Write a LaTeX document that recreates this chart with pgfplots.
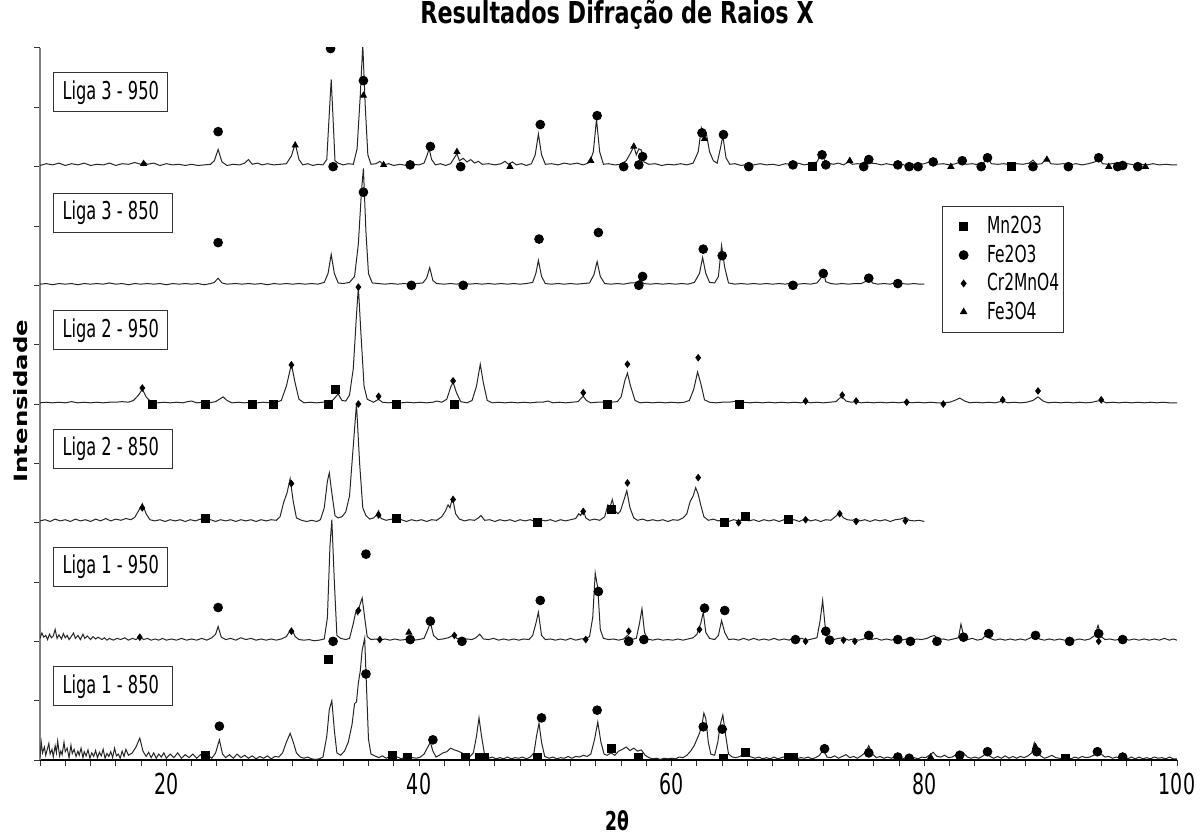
\documentclass[border=0pt]{standalone}
\usepackage{pgfplots}
\pgfplotsset{compat=1.18}
\usepackage{pgfplotstable}
\usepackage{graphicx}
\usepackage{fontspec}
\setmainfont{DejaVu Sans}[FakeStretch=0.66]
\newfontfamily\titlefont{DejaVu Sans}[FakeStretch=0.74]
\newfontfamily\plainfont{DejaVu Sans}

% offsets above each trace's own baseline
\pgfplotstableread[row sep=\\]{x y\\
10 0.02\\ 10.5 0.05\\ 11 0.03\\ 11.5 0.06\\ 12 0.02\\ 12.5 0.05\\ 13 0.03\\ 13.5 0.06\\ 14 0.02\\ 14.5 0.04\\
15 0.03\\ 15.5 0.06\\ 16 0.02\\ 16.5 0.05\\ 17 0.04\\ 17.5 0.07\\ 18 0.04\\ 18.2 0.09\\ 18.5 0.04\\ 19 0.06\\
19.5 0.02\\ 20 0.05\\ 20.5 0.03\\ 21 0.04\\ 21.5 0.02\\ 22 0.04\\ 22.5 0.02\\ 23 0.03\\ 23.5 0.04\\ 23.8 0.1\\
24.1 0.29\\ 24.4 0.08\\ 24.8 0.02\\ 25.3 0.04\\ 25.8 0.03\\ 26.2 0.06\\ 26.5 0.12\\ 26.8 0.04\\ 27.2 0.06\\ 27.6 0.03\\
28 0.05\\ 28.5 0.03\\ 29 0.04\\ 29.5 0.05\\ 29.9 0.18\\ 30.2 0.39\\ 30.5 0.12\\ 30.8 0.03\\ 31.2 0.05\\ 31.6 0.02\\
32 0.04\\ 32.4 0.03\\ 32.7 0.12\\ 32.9 0.9\\ 33.05 1.47\\ 33.2 0.8\\ 33.35 0.1\\ 33.6 0.06\\ 34 0.03\\ 34.4 0.05\\
34.8 0.04\\ 35.1 0.3\\ 35.35 1.2\\ 35.55 2.05\\ 35.75 1.0\\ 35.95 0.2\\ 36.2 0.04\\ 36.6 0.05\\ 36.9 0.09\\ 37.2 0.03\\
37.6 0.05\\ 38 0.02\\ 38.5 0.04\\ 39 0.02\\ 39.5 0.04\\ 40 0.03\\ 40.4 0.06\\ 40.65 0.2\\ 40.8 0.3\\ 41 0.12\\
41.3 0.03\\ 41.7 0.05\\ 42.1 0.02\\ 42.5 0.05\\ 42.8 0.15\\ 43.0 0.22\\ 43.2 0.1\\ 43.5 0.14\\ 43.8 0.08\\ 44.1 0.12\\
44.4 0.06\\ 44.7 0.09\\ 45 0.04\\ 45.5 0.05\\ 46 0.03\\ 46.5 0.05\\ 46.8 0.09\\ 47.1 0.04\\ 47.4 0.08\\ 47.7 0.03\\
48.1 0.05\\ 48.5 0.02\\ 48.9 0.05\\ 49.2 0.2\\ 49.45 0.55\\ 49.7 0.2\\ 50 0.04\\ 50.5 0.05\\ 51 0.03\\ 51.5 0.06\\
52 0.04\\ 52.5 0.06\\ 53 0.03\\ 53.5 0.07\\ 53.8 0.25\\ 54.05 0.8\\ 54.3 0.25\\ 54.6 0.04\\ 55 0.05\\ 55.5 0.03\\
56 0.04\\ 56.4 0.1\\ 56.8 0.25\\ 57.0 0.35\\ 57.2 0.2\\ 57.4 0.3\\ 57.6 0.28\\ 57.8 0.08\\ 58.2 0.04\\ 58.7 0.05\\
59.2 0.02\\ 59.7 0.04\\ 60.2 0.03\\ 60.7 0.05\\ 61.2 0.03\\ 61.7 0.06\\ 62.1 0.25\\ 62.35 0.65\\ 62.55 0.5\\ 62.75 0.55\\
63.0 0.25\\ 63.3 0.1\\ 63.6 0.06\\ 63.85 0.3\\ 64.05 0.52\\ 64.3 0.15\\ 64.6 0.04\\ 65 0.05\\ 65.5 0.02\\ 66 0.04\\
66.5 0.03\\ 67 0.05\\ 67.5 0.03\\ 68 0.04\\ 68.5 0.02\\ 69 0.05\\ 69.5 0.04\\ 70 0.06\\ 70.5 0.03\\ 71 0.05\\
71.5 0.08\\ 71.75 0.18\\ 71.9 0.26\\ 72.1 0.1\\ 72.4 0.06\\ 72.8 0.04\\ 73.2 0.06\\ 73.6 0.03\\ 74 0.08\\ 74.3 0.04\\
74.7 0.05\\ 75.1 0.04\\ 75.5 0.15\\ 75.8 0.06\\ 76.2 0.05\\ 76.6 0.03\\ 77 0.05\\ 77.5 0.03\\ 78 0.06\\ 78.5 0.02\\
79 0.04\\ 79.5 0.03\\ 80 0.05\\ 80.4 0.08\\ 80.7 0.11\\ 81 0.04\\ 81.5 0.05\\ 82 0.03\\ 82.5 0.05\\ 83 0.1\\
83.3 0.04\\ 83.8 0.05\\ 84.3 0.03\\ 84.7 0.07\\ 85 0.15\\ 85.3 0.05\\ 85.8 0.04\\ 86.3 0.05\\ 86.8 0.03\\ 87.3 0.05\\
87.8 0.04\\ 88.3 0.06\\ 88.6 0.11\\ 88.9 0.04\\ 89.3 0.05\\ 89.7 0.15\\ 90 0.05\\ 90.5 0.04\\ 91 0.05\\ 91.5 0.03\\
92 0.05\\ 92.5 0.03\\ 93 0.05\\ 93.5 0.08\\ 93.8 0.15\\ 94.1 0.05\\ 94.6 0.04\\ 95.1 0.06\\ 95.6 0.03\\ 96.1 0.05\\
96.6 0.03\\ 97.1 0.04\\ 97.6 0.03\\ 98.1 0.05\\ 98.6 0.03\\ 99.1 0.04\\ 99.6 0.03\\ 100 0.03\\
}\ligaTresA

\pgfplotstableread[row sep=\\]{x y\\
10 0.02\\ 10.5 0.03\\ 11 0.01\\ 11.5 0.03\\ 12 0.02\\ 12.5 0.03\\ 13 0.01\\ 13.5 0.03\\ 14 0.02\\ 14.5 0.03\\
15 0.02\\ 15.5 0.04\\ 16 0.02\\ 16.5 0.03\\ 17 0.01\\ 17.5 0.03\\ 18 0.02\\ 18.5 0.03\\ 19 0.02\\ 19.5 0.03\\
20 0.01\\ 20.5 0.03\\ 21 0.02\\ 21.5 0.03\\ 22 0.02\\ 22.5 0.03\\ 23 0.01\\ 23.5 0.03\\ 23.8 0.05\\ 24.1 0.12\\
24.4 0.04\\ 24.8 0.02\\ 25.5 0.03\\ 26 0.02\\ 26.5 0.03\\ 27 0.02\\ 27.5 0.03\\ 28 0.01\\ 28.5 0.03\\ 29 0.02\\
29.5 0.03\\ 30 0.02\\ 30.5 0.03\\ 31 0.02\\ 31.5 0.03\\ 32 0.02\\ 32.5 0.05\\ 32.8 0.2\\ 33.05 0.52\\ 33.3 0.2\\
33.6 0.04\\ 34 0.03\\ 34.5 0.05\\ 34.9 0.15\\ 35.2 0.7\\ 35.45 1.6\\ 35.6 1.97\\ 35.8 0.9\\ 36.0 0.2\\ 36.3 0.04\\
36.8 0.03\\ 37.3 0.02\\ 37.8 0.03\\ 38.3 0.02\\ 38.8 0.03\\ 39.3 0.02\\ 39.8 0.03\\ 40.3 0.04\\ 40.6 0.12\\ 40.85 0.3\\
41.1 0.08\\ 41.4 0.03\\ 42 0.02\\ 42.5 0.03\\ 43 0.02\\ 43.5 0.04\\ 44 0.02\\ 44.5 0.03\\ 45 0.02\\ 45.5 0.03\\
46 0.02\\ 46.5 0.03\\ 47 0.02\\ 47.5 0.03\\ 48 0.02\\ 48.5 0.03\\ 49 0.05\\ 49.25 0.2\\ 49.45 0.42\\ 49.7 0.15\\
50 0.03\\ 50.5 0.02\\ 51 0.03\\ 51.5 0.02\\ 52 0.03\\ 52.5 0.02\\ 53 0.03\\ 53.5 0.04\\ 53.85 0.18\\ 54.1 0.4\\
54.35 0.15\\ 54.7 0.03\\ 55.2 0.02\\ 55.7 0.03\\ 56.2 0.02\\ 56.7 0.04\\ 57.2 0.04\\ 57.5 0.09\\ 57.8 0.03\\ 58.3 0.02\\
58.8 0.03\\ 59.3 0.02\\ 59.8 0.03\\ 60.3 0.02\\ 60.8 0.03\\ 61.3 0.02\\ 61.8 0.05\\ 62.2 0.2\\ 62.45 0.47\\ 62.7 0.2\\
63.0 0.05\\ 63.4 0.04\\ 63.7 0.15\\ 63.95 0.67\\ 64.2 0.3\\ 64.5 0.04\\ 65 0.02\\ 65.5 0.03\\ 66 0.02\\ 66.5 0.03\\
67 0.02\\ 67.5 0.03\\ 68 0.02\\ 68.5 0.03\\ 69 0.02\\ 69.5 0.04\\ 70 0.02\\ 70.5 0.03\\ 71 0.02\\ 71.5 0.04\\
71.8 0.12\\ 72.0 0.24\\ 72.2 0.06\\ 72.6 0.03\\ 73 0.02\\ 73.5 0.03\\ 74 0.02\\ 74.5 0.03\\ 75 0.03\\ 75.3 0.06\\
75.6 0.13\\ 75.9 0.04\\ 76.3 0.02\\ 76.8 0.03\\ 77.3 0.02\\ 77.6 0.04\\ 77.9 0.06\\ 78.2 0.03\\ 78.7 0.02\\ 79.2 0.03\\
79.6 0.02\\ 80 0.02\\
}\ligaTresB

\pgfplotstableread[row sep=\\]{x y\\
10 0.02\\ 10.5 0.03\\ 11 0.02\\ 11.5 0.03\\ 12 0.02\\ 12.5 0.04\\ 13 0.02\\ 13.5 0.03\\ 14 0.02\\ 14.5 0.03\\
15 0.02\\ 15.5 0.03\\ 16 0.03\\ 16.5 0.04\\ 17 0.03\\ 17.4 0.06\\ 17.8 0.15\\ 18.1 0.25\\ 18.4 0.12\\ 18.8 0.03\\
19.3 0.02\\ 19.8 0.03\\ 20.3 0.02\\ 20.8 0.03\\ 21.3 0.02\\ 21.7 0.04\\ 22.0 0.05\\ 22.4 0.02\\ 22.9 0.03\\ 23.4 0.02\\
23.9 0.04\\ 24.2 0.08\\ 24.5 0.12\\ 24.8 0.06\\ 25.2 0.02\\ 25.7 0.03\\ 26.2 0.02\\ 26.7 0.03\\ 27.2 0.02\\ 27.7 0.03\\
28.2 0.02\\ 28.7 0.03\\ 29.1 0.06\\ 29.5 0.3\\ 29.9 0.67\\ 30.2 0.35\\ 30.5 0.08\\ 30.9 0.02\\ 31.4 0.03\\ 31.9 0.02\\
32.4 0.03\\ 32.9 0.03\\ 33.2 0.07\\ 33.6 0.17\\ 33.9 0.06\\ 34.2 0.05\\ 34.5 0.15\\ 34.8 0.6\\ 35.05 1.5\\ 35.2 1.97\\
35.4 1.2\\ 35.65 0.3\\ 35.9 0.08\\ 36.1 0.06\\ 36.4 0.03\\ 36.8 0.08\\ 37.1 0.03\\ 37.6 0.02\\ 38.1 0.03\\ 38.6 0.02\\
39.1 0.03\\ 39.6 0.02\\ 40.1 0.03\\ 40.6 0.02\\ 41.1 0.03\\ 41.4 0.05\\ 41.8 0.03\\ 42.2 0.08\\ 42.5 0.28\\ 42.7 0.37\\
42.95 0.2\\ 43.3 0.04\\ 43.8 0.02\\ 44.2 0.06\\ 44.55 0.3\\ 44.85 0.67\\ 45.1 0.35\\ 45.4 0.06\\ 45.8 0.02\\ 46.3 0.03\\
46.8 0.02\\ 47.3 0.03\\ 47.8 0.02\\ 48.3 0.03\\ 48.8 0.02\\ 49.3 0.03\\ 49.8 0.03\\ 50.2 0.05\\ 50.6 0.02\\ 51.1 0.03\\
51.6 0.02\\ 52.1 0.03\\ 52.6 0.04\\ 52.8 0.09\\ 53.0 0.13\\ 53.25 0.06\\ 53.6 0.02\\ 54.1 0.03\\ 54.5 0.03\\ 54.8 0.05\\
55.2 0.03\\ 55.7 0.04\\ 56.0 0.12\\ 56.3 0.4\\ 56.5 0.52\\ 56.75 0.3\\ 57.1 0.06\\ 57.5 0.02\\ 58 0.03\\ 58.5 0.02\\
59 0.03\\ 59.5 0.02\\ 60 0.03\\ 60.5 0.02\\ 61 0.03\\ 61.4 0.06\\ 61.75 0.25\\ 62.05 0.54\\ 62.3 0.35\\ 62.6 0.07\\
63 0.03\\ 63.5 0.02\\ 64 0.03\\ 64.5 0.03\\ 64.9 0.04\\ 65.3 0.06\\ 65.7 0.03\\ 66.2 0.02\\ 66.7 0.03\\ 67.2 0.02\\
67.7 0.03\\ 68.2 0.02\\ 68.7 0.03\\ 69.2 0.02\\ 69.7 0.03\\ 70.2 0.02\\ 70.6 0.04\\ 71 0.02\\ 71.5 0.03\\ 72 0.02\\
72.5 0.03\\ 73 0.04\\ 73.3 0.1\\ 73.5 0.12\\ 73.8 0.05\\ 74.2 0.03\\ 74.6 0.04\\ 75 0.02\\ 75.5 0.03\\ 76 0.02\\
76.5 0.03\\ 77 0.02\\ 77.5 0.03\\ 78 0.02\\ 78.6 0.04\\ 79 0.02\\ 79.5 0.03\\ 80 0.02\\ 80.5 0.03\\ 81 0.02\\
81.5 0.02\\ 82 0.03\\ 82.4 0.06\\ 82.8 0.1\\ 83.2 0.05\\ 83.6 0.02\\ 84.1 0.03\\ 84.6 0.02\\ 85.1 0.03\\ 85.6 0.02\\
86.2 0.05\\ 86.6 0.02\\ 87.1 0.03\\ 87.6 0.02\\ 88.1 0.03\\ 88.6 0.06\\ 89.0 0.12\\ 89.4 0.05\\ 89.8 0.02\\ 90.3 0.03\\
90.8 0.02\\ 91.3 0.03\\ 91.8 0.02\\ 92.3 0.03\\ 92.8 0.02\\ 93.3 0.03\\ 93.7 0.05\\ 94.0 0.06\\ 94.4 0.02\\ 94.9 0.03\\
95.4 0.02\\ 95.9 0.03\\ 96.4 0.02\\ 96.9 0.03\\ 97.4 0.02\\ 97.9 0.03\\ 98.4 0.02\\ 98.9 0.03\\ 99.4 0.02\\ 100 0.02\\
}\ligaDoisA

\pgfplotstableread[row sep=\\]{x y\\
10 0.03\\ 10.4 0.05\\ 10.8 0.02\\ 11.2 0.06\\ 11.6 0.03\\ 12 0.05\\ 12.4 0.02\\ 12.8 0.06\\ 13.2 0.03\\ 13.6 0.05\\
14 0.02\\ 14.4 0.06\\ 14.8 0.03\\ 15.2 0.07\\ 15.6 0.03\\ 16 0.06\\ 16.4 0.04\\ 16.8 0.07\\ 17.2 0.05\\ 17.5 0.09\\
17.8 0.2\\ 18.1 0.32\\ 18.4 0.15\\ 18.7 0.05\\ 19.1 0.03\\ 19.5 0.05\\ 19.9 0.02\\ 20.3 0.05\\ 20.7 0.03\\ 21.1 0.05\\
21.5 0.02\\ 21.9 0.05\\ 22.3 0.03\\ 22.7 0.06\\ 23.1 0.03\\ 23.5 0.05\\ 23.9 0.02\\ 24.3 0.05\\ 24.7 0.03\\ 25.1 0.05\\
25.5 0.02\\ 25.9 0.05\\ 26.3 0.03\\ 26.7 0.05\\ 27.1 0.02\\ 27.5 0.05\\ 27.9 0.03\\ 28.3 0.05\\ 28.7 0.04\\ 29.0 0.1\\
29.3 0.35\\ 29.55 0.5\\ 29.8 0.74\\ 30.05 0.35\\ 30.3 0.08\\ 30.7 0.04\\ 31.1 0.02\\ 31.5 0.04\\ 31.9 0.02\\ 32.2 0.05\\
32.5 0.25\\ 32.75 0.7\\ 32.9 0.84\\ 33.1 0.5\\ 33.35 0.12\\ 33.6 0.08\\ 33.9 0.1\\ 34.2 0.18\\ 34.5 0.45\\ 34.8 1.3\\
35.05 2.0\\ 35.3 1.0\\ 35.55 0.25\\ 35.8 0.12\\ 36.1 0.06\\ 36.4 0.08\\ 36.6 0.12\\ 36.8 0.2\\ 37.0 0.07\\ 37.4 0.04\\
37.8 0.06\\ 38.2 0.03\\ 38.6 0.05\\ 39 0.02\\ 39.4 0.05\\ 39.8 0.03\\ 40.2 0.05\\ 40.6 0.02\\ 41 0.05\\ 41.4 0.04\\
41.8 0.1\\ 42.1 0.2\\ 42.3 0.3\\ 42.45 0.25\\ 42.65 0.42\\ 42.9 0.15\\ 43.2 0.06\\ 43.6 0.03\\ 44 0.05\\ 44.4 0.04\\
44.7 0.08\\ 44.9 0.12\\ 45.2 0.04\\ 45.6 0.05\\ 46 0.02\\ 46.4 0.05\\ 46.8 0.03\\ 47.2 0.05\\ 47.6 0.02\\ 48 0.05\\
48.4 0.03\\ 48.8 0.05\\ 49.2 0.02\\ 49.6 0.05\\ 50 0.03\\ 50.4 0.05\\ 50.8 0.02\\ 51.2 0.05\\ 51.6 0.03\\ 52 0.05\\
52.4 0.07\\ 52.65 0.15\\ 52.8 0.12\\ 53.0 0.22\\ 53.2 0.08\\ 53.5 0.04\\ 53.9 0.06\\ 54.3 0.04\\ 54.7 0.1\\ 54.95 0.3\\
55.1 0.25\\ 55.3 0.39\\ 55.5 0.2\\ 55.75 0.15\\ 55.95 0.2\\ 56.25 0.4\\ 56.45 0.54\\ 56.7 0.25\\ 57.0 0.08\\ 57.3 0.04\\
57.7 0.06\\ 58.1 0.03\\ 58.5 0.05\\ 58.9 0.03\\ 59.3 0.05\\ 59.7 0.02\\ 60.1 0.05\\ 60.5 0.04\\ 60.9 0.08\\ 61.2 0.15\\
61.45 0.35\\ 61.7 0.45\\ 61.9 0.59\\ 62.1 0.48\\ 62.3 0.3\\ 62.55 0.1\\ 62.9 0.04\\ 63.3 0.06\\ 63.7 0.03\\ 64.1 0.05\\
64.5 0.02\\ 64.9 0.05\\ 65.3 0.03\\ 65.7 0.06\\ 66.1 0.03\\ 66.5 0.05\\ 66.9 0.02\\ 67.3 0.05\\ 67.7 0.03\\ 68.1 0.05\\
68.5 0.02\\ 68.9 0.05\\ 69.3 0.03\\ 69.7 0.05\\ 70.1 0.02\\ 70.6 0.07\\ 71 0.03\\ 71.4 0.05\\ 71.8 0.02\\ 72.2 0.05\\
72.6 0.04\\ 72.95 0.1\\ 73.3 0.17\\ 73.6 0.08\\ 73.9 0.05\\ 74.3 0.04\\ 74.6 0.07\\ 74.9 0.03\\ 75.3 0.05\\ 75.7 0.02\\
76.1 0.05\\ 76.5 0.03\\ 76.9 0.05\\ 77.3 0.02\\ 77.7 0.05\\ 78.1 0.06\\ 78.5 0.09\\ 78.8 0.04\\ 79.2 0.03\\ 79.6 0.04\\
80 0.02\\
}\ligaDoisB

\pgfplotstableread[row sep=\\]{x y\\
10 0.05\\ 10.15 0.14\\ 10.3 0.07\\ 10.45 0.1\\ 10.6 0.03\\ 10.75 0.12\\ 10.9 0.06\\ 11.05 0.09\\ 11.2 0.2\\ 11.35 0.05\\
11.5 0.11\\ 11.7 0.04\\ 11.85 0.13\\ 12.0 0.06\\ 12.15 0.1\\ 12.3 0.03\\ 12.5 0.09\\ 12.65 0.14\\ 12.8 0.05\\ 13.0 0.1\\
13.2 0.03\\ 13.4 0.12\\ 13.55 0.05\\ 13.75 0.09\\ 14.0 0.03\\ 14.2 0.08\\ 14.4 0.04\\ 14.6 0.07\\ 14.9 0.03\\ 15.1 0.06\\
15.3 0.02\\ 15.5 0.05\\ 15.8 0.02\\ 16.1 0.05\\ 16.4 0.03\\ 16.7 0.06\\ 17.0 0.02\\ 17.3 0.05\\ 17.6 0.03\\ 17.9 0.08\\
18.2 0.03\\ 18.5 0.05\\ 18.8 0.02\\ 19.1 0.04\\ 19.4 0.02\\ 19.7 0.05\\
20 0.02\\ 20.4 0.04\\ 20.8 0.02\\ 21.2 0.05\\ 21.6 0.02\\ 22 0.04\\ 22.4 0.02\\ 22.8 0.05\\ 23.2 0.02\\ 23.6 0.06\\
23.9 0.12\\ 24.1 0.25\\ 24.35 0.07\\ 24.7 0.03\\ 25.1 0.05\\ 25.5 0.02\\ 25.9 0.06\\ 26.3 0.03\\ 26.7 0.05\\ 27.1 0.02\\
27.5 0.04\\ 27.9 0.02\\ 28.3 0.04\\ 28.7 0.02\\ 29.1 0.04\\ 29.5 0.08\\ 29.9 0.22\\ 30.2 0.08\\ 30.5 0.03\\ 30.9 0.02\\
31.3 0.03\\ 31.7 0.01\\ 32.1 0.02\\ 32.5 0.04\\ 32.75 0.4\\ 32.95 1.6\\ 33.1 2.05\\ 33.3 1.0\\ 33.5 0.1\\ 33.8 0.05\\
34.2 0.03\\ 34.5 0.05\\ 34.8 0.3\\ 35.0 0.5\\ 35.15 0.45\\ 35.3 0.6\\ 35.5 0.73\\ 35.7 0.4\\ 35.9 0.08\\ 36.2 0.03\\
36.6 0.04\\ 36.9 0.02\\ 37.3 0.04\\ 37.7 0.02\\ 38.1 0.04\\ 38.5 0.02\\ 38.9 0.03\\ 39.3 0.07\\ 39.6 0.02\\ 40.0 0.03\\
40.4 0.05\\ 40.7 0.2\\ 40.9 0.32\\ 41.15 0.1\\ 41.5 0.03\\ 41.9 0.04\\ 42.3 0.06\\ 42.7 0.1\\ 43.0 0.05\\ 43.4 0.02\\
43.8 0.04\\ 44.2 0.03\\ 44.5 0.06\\ 44.8 0.12\\ 45.1 0.04\\ 45.5 0.03\\ 45.9 0.05\\ 46.3 0.02\\ 46.7 0.04\\ 47.1 0.02\\
47.5 0.04\\ 47.9 0.02\\ 48.3 0.04\\ 48.7 0.03\\ 49.0 0.1\\ 49.25 0.3\\ 49.45 0.49\\ 49.7 0.1\\ 50 0.03\\ 50.4 0.04\\
50.8 0.02\\ 51.2 0.04\\ 51.6 0.02\\ 52 0.05\\ 52.4 0.02\\ 52.8 0.04\\ 53.2 0.05\\ 53.5 0.08\\ 53.75 0.4\\ 53.95 1.15\\
54.15 0.9\\ 54.35 0.2\\ 54.6 0.05\\ 55.0 0.03\\ 55.4 0.04\\ 55.8 0.02\\ 56.2 0.04\\ 56.5 0.1\\ 56.8 0.03\\ 57.2 0.05\\
57.45 0.3\\ 57.65 0.55\\ 57.85 0.15\\ 58.1 0.04\\ 58.5 0.02\\ 58.9 0.04\\ 59.3 0.02\\ 59.7 0.03\\ 60.1 0.02\\ 60.5 0.04\\
60.9 0.02\\ 61.3 0.04\\ 61.7 0.06\\ 62.0 0.12\\ 62.3 0.3\\ 62.5 0.49\\ 62.7 0.15\\ 63.0 0.05\\ 63.4 0.03\\ 63.7 0.1\\
63.95 0.35\\ 64.2 0.15\\ 64.5 0.03\\ 64.9 0.04\\ 65.3 0.02\\ 65.7 0.05\\ 66.1 0.02\\ 66.5 0.05\\ 66.9 0.02\\ 67.3 0.04\\
67.7 0.02\\ 68.1 0.05\\ 68.5 0.02\\ 68.9 0.04\\ 69.3 0.02\\ 69.6 0.06\\ 69.9 0.03\\ 70.3 0.05\\ 70.7 0.02\\ 71.1 0.04\\
71.5 0.06\\ 71.75 0.35\\ 71.95 0.69\\ 72.15 0.25\\ 72.4 0.05\\ 72.8 0.03\\ 73.2 0.05\\ 73.6 0.06\\ 74.0 0.02\\ 74.4 0.04\\
74.8 0.02\\ 75.2 0.04\\ 75.5 0.1\\ 75.8 0.03\\ 76.2 0.05\\ 76.6 0.02\\ 77.0 0.04\\ 77.4 0.02\\ 77.8 0.05\\ 78.2 0.02\\
78.6 0.04\\ 79.0 0.02\\ 79.4 0.04\\ 79.8 0.03\\ 80.2 0.05\\ 80.5 0.08\\ 80.8 0.1\\ 81.1 0.03\\ 81.5 0.04\\ 81.9 0.02\\
82.3 0.04\\ 82.7 0.06\\ 82.9 0.29\\ 83.1 0.1\\ 83.4 0.03\\ 83.8 0.05\\ 84.2 0.02\\ 84.6 0.04\\ 84.9 0.12\\ 85.2 0.05\\
85.6 0.02\\ 86.0 0.04\\ 86.4 0.02\\ 86.8 0.04\\ 87.2 0.02\\ 87.6 0.04\\ 88.0 0.02\\ 88.4 0.06\\ 88.8 0.12\\ 89.1 0.04\\
89.5 0.02\\ 89.9 0.04\\ 90.3 0.02\\ 90.7 0.04\\ 91.1 0.02\\ 91.5 0.04\\ 91.9 0.02\\ 92.3 0.04\\ 92.7 0.02\\ 93.1 0.04\\
93.5 0.1\\ 93.75 0.27\\ 94.0 0.08\\ 94.3 0.03\\ 94.7 0.04\\ 95.1 0.02\\ 95.5 0.04\\ 95.8 0.05\\ 96.2 0.02\\ 96.6 0.04\\
97.0 0.02\\ 97.4 0.04\\ 97.8 0.02\\ 98.2 0.04\\ 98.6 0.02\\ 99.0 0.05\\ 99.4 0.02\\ 99.7 0.04\\ 100 0.02\\
}\ligaUmA

\pgfplotstableread[row sep=\\]{x y\\
10 0.05\\ 10.1 0.3\\ 10.2 0.12\\ 10.35 0.22\\ 10.45 0.08\\ 10.55 0.16\\ 10.7 0.28\\ 10.8 0.1\\ 10.95 0.18\\ 11.05 0.05\\
11.2 0.24\\ 11.3 0.12\\ 11.4 0.32\\ 11.55 0.07\\ 11.65 0.15\\ 11.75 0.09\\ 11.9 0.3\\ 12.0 0.14\\ 12.15 0.2\\ 12.3 0.04\\
12.45 0.25\\ 12.55 0.11\\ 12.7 0.18\\ 12.85 0.06\\ 13.0 0.15\\ 13.1 0.08\\ 13.25 0.2\\ 13.4 0.04\\ 13.5 0.14\\ 13.65 0.07\\
13.8 0.17\\ 13.95 0.03\\ 14.1 0.12\\ 14.25 0.06\\ 14.4 0.16\\ 14.55 0.04\\ 14.7 0.13\\ 14.85 0.07\\ 15.0 0.18\\ 15.15 0.03\\
15.3 0.11\\ 15.45 0.06\\ 15.6 0.14\\ 15.75 0.04\\ 15.9 0.2\\ 16.05 0.07\\ 16.2 0.1\\ 16.35 0.03\\ 16.5 0.15\\ 16.65 0.06\\
16.8 0.18\\ 17.0 0.08\\ 17.3 0.12\\ 17.6 0.22\\ 17.9 0.37\\ 18.15 0.15\\ 18.4 0.06\\ 18.6 0.13\\ 18.8 0.04\\ 19.0 0.12\\
19.2 0.03\\ 19.4 0.1\\ 19.6 0.05\\ 19.8 0.12\\ 20.0 0.03\\ 20.3 0.1\\ 20.6 0.04\\ 20.9 0.12\\ 21.2 0.03\\ 21.5 0.09\\
21.8 0.04\\ 22.1 0.1\\ 22.4 0.03\\ 22.7 0.09\\ 23.0 0.04\\ 23.3 0.08\\ 23.6 0.03\\ 23.9 0.12\\ 24.2 0.34\\ 24.45 0.1\\
24.7 0.04\\ 25.0 0.09\\ 25.3 0.03\\ 25.6 0.1\\ 25.9 0.04\\ 26.2 0.08\\ 26.5 0.03\\ 26.8 0.07\\ 27.1 0.02\\ 27.4 0.06\\
27.7 0.03\\ 28.0 0.07\\ 28.3 0.02\\ 28.6 0.06\\ 28.9 0.05\\ 29.2 0.12\\ 29.5 0.3\\ 29.8 0.45\\ 30.05 0.3\\ 30.3 0.12\\
30.6 0.05\\ 30.9 0.03\\ 31.2 0.05\\ 31.5 0.02\\ 31.8 0.01\\ 32.1 0.02\\ 32.4 0.05\\ 32.7 0.4\\ 32.9 0.85\\ 33.1 1.0\\
33.3 0.5\\ 33.5 0.12\\ 33.8 0.08\\ 34.1 0.15\\ 34.4 0.3\\ 34.7 0.6\\ 34.9 0.95\\ 35.05 0.98\\ 35.2 1.3\\ 35.35 1.5\\
35.5 1.85\\ 35.7 2.05\\ 35.85 1.2\\ 36.0 0.35\\ 36.2 0.1\\ 36.5 0.07\\ 36.8 0.04\\ 37.1 0.07\\ 37.4 0.03\\ 37.7 0.06\\
38.0 0.03\\ 38.3 0.05\\ 38.6 0.02\\ 38.9 0.05\\ 39.2 0.03\\ 39.5 0.04\\ 39.8 0.03\\ 40.1 0.05\\ 40.4 0.1\\ 40.7 0.22\\
40.9 0.3\\ 41.1 0.15\\ 41.35 0.05\\ 41.6 0.08\\ 41.9 0.12\\ 42.2 0.14\\ 42.5 0.2\\ 42.8 0.17\\ 43.1 0.15\\ 43.4 0.12\\
43.7 0.06\\ 44.0 0.05\\ 44.3 0.12\\ 44.55 0.4\\ 44.75 0.71\\ 44.95 0.4\\ 45.2 0.08\\ 45.5 0.03\\ 45.8 0.05\\ 46.1 0.02\\
46.4 0.04\\ 46.7 0.02\\ 47.0 0.05\\ 47.3 0.02\\ 47.6 0.04\\ 47.9 0.03\\ 48.2 0.05\\ 48.5 0.02\\ 48.8 0.05\\ 49.1 0.12\\
49.3 0.4\\ 49.5 0.62\\ 49.7 0.3\\ 49.95 0.06\\ 50.3 0.03\\ 50.6 0.05\\ 50.9 0.02\\ 51.2 0.04\\ 51.5 0.03\\ 51.8 0.06\\
52.1 0.03\\ 52.4 0.06\\ 52.7 0.05\\ 53.0 0.08\\ 53.3 0.06\\ 53.6 0.1\\ 53.9 0.35\\ 54.15 0.64\\ 54.4 0.3\\ 54.65 0.1\\
54.9 0.08\\ 55.2 0.12\\ 55.5 0.08\\ 55.8 0.15\\ 56.1 0.18\\ 56.4 0.22\\ 56.7 0.16\\ 57.0 0.2\\ 57.3 0.15\\ 57.6 0.17\\
57.9 0.08\\ 58.2 0.04\\ 58.5 0.02\\ 58.8 0.03\\ 59.1 0.01\\ 59.4 0.03\\ 59.7 0.02\\ 60.0 0.03\\ 60.3 0.02\\ 60.6 0.05\\
60.9 0.04\\ 61.2 0.08\\ 61.5 0.15\\ 61.8 0.25\\ 62.0 0.35\\ 62.2 0.45\\ 62.4 0.6\\ 62.55 0.79\\ 62.7 0.7\\ 62.9 0.3\\
63.1 0.1\\ 63.4 0.08\\ 63.65 0.3\\ 63.85 0.6\\ 64.05 0.76\\ 64.25 0.45\\ 64.5 0.1\\ 64.8 0.05\\ 65.1 0.04\\ 65.4 0.06\\
65.7 0.1\\ 66.0 0.07\\ 66.3 0.05\\ 66.6 0.03\\ 66.9 0.05\\ 67.2 0.02\\ 67.5 0.04\\ 67.8 0.02\\ 68.1 0.05\\ 68.4 0.02\\
68.7 0.04\\ 69.0 0.06\\ 69.3 0.02\\ 69.6 0.05\\ 69.9 0.02\\ 70.2 0.04\\ 70.5 0.03\\ 70.8 0.05\\ 71.1 0.02\\ 71.4 0.04\\
71.7 0.08\\ 72.0 0.17\\ 72.3 0.05\\ 72.6 0.04\\ 72.9 0.07\\ 73.2 0.03\\ 73.5 0.06\\ 73.8 0.09\\ 74.1 0.04\\ 74.4 0.06\\
74.7 0.03\\ 75.0 0.07\\ 75.3 0.12\\ 75.6 0.24\\ 75.9 0.1\\ 76.2 0.04\\ 76.5 0.06\\ 76.8 0.03\\ 77.1 0.05\\ 77.4 0.03\\
77.7 0.06\\ 78.0 0.05\\ 78.3 0.02\\ 78.6 0.05\\ 78.9 0.03\\ 79.2 0.04\\ 79.5 0.02\\ 79.8 0.05\\ 80.1 0.04\\ 80.4 0.08\\
80.7 0.13\\ 81.0 0.06\\ 81.3 0.05\\ 81.6 0.08\\ 81.9 0.04\\ 82.2 0.05\\ 82.5 0.09\\ 82.8 0.15\\ 83.1 0.12\\ 83.4 0.05\\
83.7 0.03\\ 84.0 0.05\\ 84.3 0.03\\ 84.6 0.06\\ 84.9 0.12\\ 85.2 0.06\\ 85.5 0.03\\ 85.8 0.06\\ 86.1 0.03\\ 86.4 0.07\\
86.7 0.03\\ 87.0 0.06\\ 87.3 0.03\\ 87.6 0.06\\ 87.9 0.04\\ 88.2 0.07\\ 88.5 0.12\\ 88.7 0.29\\ 88.9 0.15\\ 89.2 0.07\\
89.5 0.03\\ 89.8 0.05\\ 90.1 0.08\\ 90.4 0.04\\ 90.7 0.03\\ 91.0 0.02\\ 91.3 0.04\\ 91.6 0.02\\ 91.9 0.05\\ 92.2 0.03\\
92.5 0.06\\ 92.8 0.04\\ 93.1 0.05\\ 93.4 0.08\\ 93.7 0.15\\ 94.0 0.1\\ 94.3 0.05\\ 94.6 0.06\\ 94.9 0.03\\ 95.2 0.05\\
95.5 0.03\\ 95.8 0.06\\ 96.1 0.02\\ 96.4 0.05\\ 96.7 0.02\\ 97.0 0.05\\ 97.3 0.02\\ 97.6 0.04\\ 97.9 0.02\\ 98.2 0.05\\
98.5 0.03\\ 98.8 0.04\\ 99.1 0.02\\ 99.4 0.05\\ 99.7 0.02\\ 100 0.02\\
}\ligaUmB

\pgfplotsset{trace/.style={black!85, line width=0.5pt, no markers, forget plot}}
\tikzset{caixa/.style={draw=black!80, line width=0.5pt, fill=white, anchor=west,
  inner xsep=4.5pt, minimum height=19.5pt,
  font=\fontsize{12.3}{14}\selectfont}}

\begin{document}
\begin{tikzpicture}
\begin{axis}[
    scale only axis, width=568.5pt, height=356pt,
    xmin=10, xmax=100, ymin=0, ymax=12,
    axis x line*=bottom, axis y line*=left,
    x axis line style={black, line width=0.6pt},
    y axis line style={black!50, line width=0.8pt},
    xtick={20,40,60,80,100}, minor xtick={10,12,...,100},
    ytick={0,1,...,12}, yticklabels={},
    tick align=outside, major tick length=3pt, minor tick length=3pt,
    tick style={black!80, line width=0.5pt},
    clip marker paths=true,
    /pgf/number format/assume math mode=true,
    xticklabel style={font=\fontsize{14.4}{16}\selectfont},
    title={\titlefont\bfseries\fontsize{15.1}{17}\selectfont Resultados Difração de Raios X},
    title style={at={(rel axis cs:0.5075,1.0169)}, anchor=base},
    xlabel={\bfseries\fontsize{13}{15}\selectfont 2θ},
    xlabel style={at={(rel axis cs:0.5075,-0.099)}, anchor=base},
    ylabel={\plainfont\bfseries\fontsize{12.2}{14}\selectfont\scalebox{1}[0.75]{Intensidade}},
    ylabel style={at={(rel axis cs:-0.011,0.504)}, anchor=base, rotate=0},
    legend style={at={(rel axis cs:0.793,0.778)}, anchor=north west,
      draw=black!80, line width=0.5pt, inner xsep=0pt, inner ysep=3pt,
      font=\fontsize{11.7}{13.5}\selectfont, row sep=0pt},
    legend cell align=left,
    legend image code/.code={\path (0pt,0pt) (20pt,0pt); \draw[#1] plot coordinates {(10.5pt,0pt)};},
]
\coordinate (SW) at (rel axis cs:0,0);
\coordinate (NE) at (rel axis cs:1,1);

\addplot[trace] table[x=x, y expr=\thisrow{y}+10] {\ligaTresA};
\addplot[trace] table[x=x, y expr=\thisrow{y}+8] {\ligaTresB};
\addplot[trace] table[x=x, y expr=\thisrow{y}+6] {\ligaDoisA};
\addplot[trace] table[x=x, y expr=\thisrow{y}+4] {\ligaDoisB};
\addplot[trace] table[x=x, y expr=\thisrow{y}+2] {\ligaUmA};
\addplot[trace] table[x=x, y expr=\thisrow{y}] {\ligaUmB};

% Mn2O3
\addplot[only marks, mark=square*, mark size=2pt, black] coordinates {
  (18.9,6.0) (23.1,6.0) (26.8,6.0) (28.5,6.0) (32.8,6.0) (33.4,6.24) (38.2,6.0) (42.8,6.0) (54.9,6.0) (65.4,6.0)
  (23.1,4.08) (38.2,4.08) (49.4,4.0) (55.2,4.22) (64.2,4.0) (65.8,4.1) (69.2,4.05)
  (23.1,0.08) (32.8,1.7) (37.9,0.08) (39.1,0.05) (43.7,0.05) (44.8,0.05) (45.2,0.05) (49.4,0.05) (55.2,0.2)
  (57.4,0.05) (64.1,0.03) (65.8,0.12) (69.2,0.05) (69.6,0.05) (91.2,0.03)
  (71.1,10.0) (86.9,10.0)
};
\addlegendentry{Mn2O3}
% Fe2O3
\addplot[only marks, mark=*, mark size=2.2pt, black] coordinates {
  (24.1,10.59) (33.0,11.99) (33.2,10.0) (35.6,11.45) (39.3,10.03) (40.9,10.34) (43.3,10.0) (49.6,10.71) (54.1,10.86)
  (56.2,10.0) (57.4,10.03) (57.7,10.17) (62.4,10.57) (64.1,10.54) (66.1,10.0) (69.6,10.03) (71.9,10.2) (72.2,10.03)
  (75.2,10.0) (75.6,10.12) (77.9,10.03) (78.8,10.0) (79.5,10.0) (80.7,10.08) (83.0,10.1) (84.5,10.0) (85.0,10.15)
  (88.6,10.0) (91.4,10.0) (93.8,10.15) (95.3,10.0) (95.7,10.02) (96.9,10.0)
  (24.1,8.72) (35.6,9.57) (39.4,8.0) (43.5,8.0) (49.5,8.78) (54.2,8.89) (57.4,8.0) (57.7,8.15) (62.5,8.61)
  (64.0,8.5) (69.6,8.0) (72.0,8.2) (75.6,8.12) (77.9,8.03)
  (24.1,2.57) (33.2,2.0) (35.8,3.47) (39.3,2.03) (40.9,2.34) (43.4,2.0) (49.6,2.69) (54.2,2.84) (56.6,2.0)
  (57.8,2.03) (62.6,2.56) (64.2,2.52) (69.8,2.03) (72.2,2.17) (72.5,2.02) (75.6,2.1) (77.9,2.03) (78.9,2.0)
  (81.0,2.0) (83.1,2.07) (85.1,2.13) (88.8,2.1) (91.5,2.0) (93.8,2.13) (95.7,2.03)
  (24.2,0.57) (35.8,1.45) (41.1,0.34) (49.7,0.71) (54.1,0.84) (62.5,0.56) (64.0,0.52) (72.1,0.19) (75.6,0.12)
  (77.9,0.05) (78.8,0.03) (82.8,0.08) (85.0,0.14) (88.9,0.14) (93.7,0.14) (95.7,0.05)
};
\addlegendentry{Fe2O3}
% Cr2MnO4
\addplot[only marks, mark=diamond*, mark size=1.6pt, black] coordinates {
  (18.1,6.27) (29.9,6.66) (35.2,7.97) (36.8,6.13) (42.7,6.39) (53.0,6.19) (56.5,6.67) (62.1,6.78) (70.6,6.05)
  (73.5,6.15) (74.6,6.05) (78.6,6.03) (81.5,6.0) (86.2,6.07) (89.0,6.22) (94.0,6.07)
  (18.1,4.25) (29.9,4.66) (35.2,6.0) (36.8,4.13) (42.7,4.39) (53.0,4.19) (56.5,4.67) (62.1,4.76) (65.3,4.0)
  (70.6,4.05) (73.3,4.15) (74.6,4.02) (78.5,4.03)
  (17.9,2.07) (29.9,2.17) (35.2,2.52) (36.9,2.03) (42.8,2.1) (53.2,2.03) (56.6,2.17) (62.2,2.2) (70.6,2.0)
  (73.6,2.02) (74.5,2.0) (93.8,2.0)
};
\addlegendentry{Cr2MnO4}
% Fe3O4
\addplot[only marks, mark=triangle*, mark size=1.7pt, black] coordinates {
  (18.2,10.05) (30.2,10.36) (35.6,11.2) (37.2,10.03) (43.0,10.25) (47.2,10.0) (53.6,10.1) (57.0,10.34)
  (62.6,10.47) (74.1,10.1) (82.1,10.0) (89.7,10.12) (94.6,10.0) (97.5,10.0)
  (39.2,2.15) (80.5,0.05) (88.8,0.22)
};
\addlegendentry{Fe3O4}

\node[caixa] at (axis cs:11.03,11.25) {\makebox[48pt][l]{Liga 3 - 950}};
\node[caixa] at (axis cs:11.03,9.22) {\makebox[50.5pt][l]{Liga 3 - 850}};
\node[caixa] at (axis cs:11.03,7.24) {\makebox[48pt][l]{Liga 2 - 950}};
\node[caixa] at (axis cs:11.03,5.25) {\makebox[50.5pt][l]{Liga 2 - 850}};
\node[caixa] at (axis cs:11.03,3.26) {\makebox[48pt][l]{Liga 1 - 950}};
\node[caixa] at (axis cs:11.03,1.24) {\makebox[50.5pt][l]{Liga 1 - 850}};
\end{axis}
\pgfresetboundingbox
\path ([shift={(-20pt,-38pt)}]SW) rectangle ([shift={(13.5pt,24pt)}]NE);
\end{tikzpicture}
\end{document}
